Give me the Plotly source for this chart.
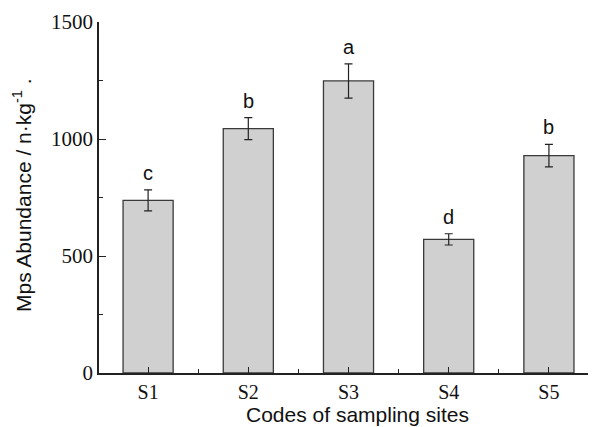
import plotly.graph_objects as go

categories = ["S1", "S2", "S3", "S4", "S5"]
abundance = [738, 1044, 1248, 571, 929]
errors = [45, 47, 73, 24, 48]
letters = ["c", "b", "a", "d", "b"]

xpos = list(range(len(categories)))

fig = go.Figure()
fig.add_trace(go.Bar(
    x=xpos, y=abundance, width=0.5,
    marker=dict(color="#cfd0cf", line=dict(color="#3a3a3a", width=1.3)),
    error_y=dict(type="data", array=errors, visible=True, color="#222222",
                 thickness=1.2, width=4),
    showlegend=False,
))

for x, y, e, t in zip(xpos, abundance, errors, letters):
    fig.add_annotation(x=x, y=y + e, text=t, showarrow=False, yanchor="bottom",
                       yshift=4, font=dict(family="Liberation Sans, Arial", size=20, color="#111"))

# axis titles
fig.add_annotation(xref="paper", yref="paper", x=0.5255, y=0, yanchor="middle", yshift=-41,
                   text="Codes of sampling sites", showarrow=False,
                   font=dict(family="Liberation Sans, Arial", size=21, color="#111"))
fig.add_annotation(xref="paper", yref="paper", x=0, y=0.507, xanchor="center", yanchor="middle",
                   xshift=-77, textangle=-90, text="Mps Abundance / n·kg<sup>-1</sup> .", showarrow=False,
                   font=dict(family="Liberation Sans, Arial", size=21, color="#111"))

fig.update_layout(
    width=588, height=419,
    margin=dict(l=91, r=6, t=14, b=54),
    paper_bgcolor="white", plot_bgcolor="white",
    xaxis=dict(
        range=[-0.49, 4.41], tickvals=xpos, ticktext=categories, automargin=False,
        ticks="inside", ticklen=6, tickwidth=1, tickcolor="#222",
        showline=True, linecolor="#222", linewidth=1.5, showgrid=False, zeroline=False,
        minor=dict(tickvals=[0.5, 1.5, 2.5, 3.5], ticks="inside", ticklen=4, tickcolor="#222", showgrid=False),
        tickfont=dict(family="Liberation Serif, Times New Roman", size=20, color="#111"),
    ),
    yaxis=dict(
        range=[0, 1500], tickvals=[0, 500, 1000, 1500], automargin=False,
        ticks="inside", ticklen=7, tickwidth=1, tickcolor="#222",
        showline=True, linecolor="#222", linewidth=1.5, showgrid=False, zeroline=False,
        minor=dict(tickvals=[250, 750, 1250], ticks="inside", ticklen=4, tickcolor="#222", showgrid=False),
        tickfont=dict(family="Liberation Serif, Times New Roman", size=21, color="#111"),
    ),
)

fig.write_html("out.html")
